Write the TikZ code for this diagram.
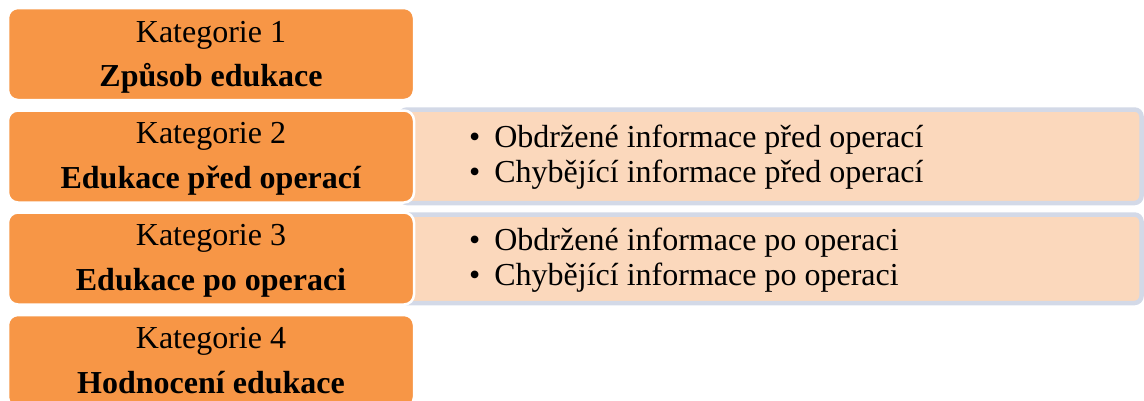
\documentclass[tikz,border=0pt]{standalone}
\usepackage{fontspec}
\setmainfont{Liberation Serif}
\definecolor{catorange}{HTML}{F79646}
\definecolor{subfill}{HTML}{FBD8BC}
\definecolor{subedge}{HTML}{D3D9E7}
\tikzset{
  catbox/.style={fill=catorange, draw=white, line width=2.5pt, rounded corners=10pt},
  subbox/.style={fill=subfill, draw=subedge, line width=4.5pt, rounded corners=7pt},
  linetext/.style={inner sep=0pt, anchor=base, font=\fontsize{32}{35}\selectfont},
  itemtext/.style={inner sep=0pt, anchor=base west, font=\fontsize{32}{35}\selectfont},
}
\begin{document}
\begin{tikzpicture}[x=1pt, y=-1pt]
  \useasboundingbox (0,0) rectangle (1144,400);
  \clip (0,0) rectangle (1144,400);

  % subcategory panels (behind the category boxes)
  \path[subbox] (400,109.5) rectangle (1141.5,203) coordinate (s2);
  \path[subbox] (400,214.5) rectangle (1141.5,303) coordinate (s3);

  % category boxes
  \node[catbox, minimum width=406pt, minimum height=92pt] (k1) at (211,54) {};
  \node[catbox, minimum width=406pt, minimum height=92pt] (k2) at (211,156.5) {};
  \node[catbox, minimum width=406pt, minimum height=92pt] (k3) at (211,258.5) {};
  \node[catbox, minimum width=406pt, minimum height=92pt] (k4) at (211,361) {};

  \node[linetext] (k1a) at (211,42) {Kategorie 1};
  \node[linetext] (k1b) at (211,86) {\textbf{Způsob edukace}};
  \node[linetext] (k2a) at (211,143) {Kategorie 2};
  \node[linetext] (k2b) at (211,188) {\textbf{Edukace před operací}};
  \node[linetext] (k3a) at (211,245) {Kategorie 3};
  \node[linetext] (k3b) at (211,290) {\textbf{Edukace po operaci}};
  \node[linetext] (k4a) at (211,348) {Kategorie 4};
  \node[linetext] (k4b) at (211,393) {\textbf{Hodnocení edukace}};

  % subcategory items
  \node[itemtext] (p2a) at (469,147) {•\hspace{14pt}Obdržené informace před operací};
  \node[itemtext] (p2b) at (469,182) {•\hspace{14pt}Chybějící informace před operací};
  \node[itemtext] (p3a) at (469,250) {•\hspace{14pt}Obdržené informace po operaci};
  \node[itemtext] (p3b) at (469,285) {•\hspace{14pt}Chybějící informace po operaci};
\end{tikzpicture}
\end{document}
